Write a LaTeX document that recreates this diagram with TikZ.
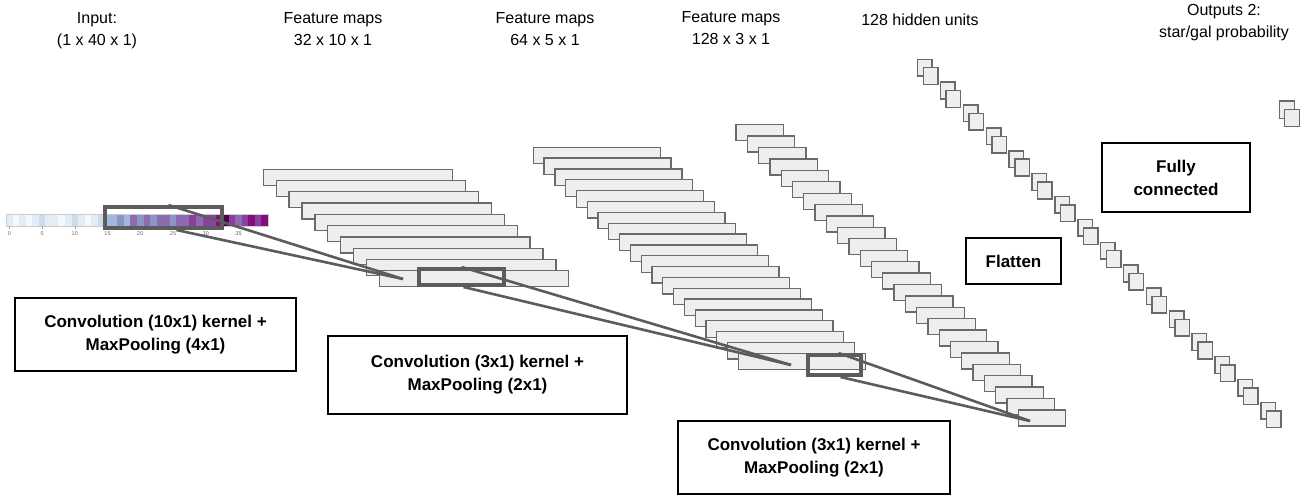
\documentclass[tikz,border=0pt]{standalone}
\usepackage{fontspec}
\setmainfont{Liberation Sans}
\usetikzlibrary{%
  positioning,
  calc
}
\definecolor{layerfill}{HTML}{EEEEEE}
\definecolor{layerline}{HTML}{6A6A6A}
\definecolor{kernelline}{HTML}{5C5C5C}
\definecolor{bp0}{HTML}{F4F8FB}
\definecolor{bp1}{HTML}{E3EDF6}
\definecolor{bp2}{HTML}{CCDCEC}
\definecolor{bp3}{HTML}{9FB8DB}
\definecolor{bp4}{HTML}{8C96C6}
\definecolor{bp5}{HTML}{8C6BB1}
\definecolor{bp6}{HTML}{88419D}
\definecolor{bp7}{HTML}{810F7C}
\definecolor{bp8}{HTML}{4D004B}
\newcommand{\opfont}{\fontsize{17}{23}\selectfont\bfseries}
\newcommand{\headfont}{\fontsize{16}{22}\selectfont}
\tikzset{
  layer/.style = {draw = layerline, fill = layerfill, line width = 1.3pt},
  unit/.style = {layer, line width = 1.5pt},
  kernel/.style = {draw = kernelline, line width = 4pt, inner sep = 0},
  proj/.style = {draw = kernelline, line width = 2.6pt},
  ticklabel/.style = {font = \fontsize{5.5}{5.5}\selectfont, text = gray!80!black, inner sep = 0}
}

\begin{document}
\begin{tikzpicture}[
      x = 1pt, y = -1pt,
      opbox/.style = {draw, line width = 1.2pt, align = center, font = \opfont, inner sep = 0},
      heading/.style = {align = center, font = \headfont, inner sep = 0}
      ]
      \useasboundingbox (0,0) rectangle (1305,498);
      \foreach \c [count = \k from 0] in {bp1,bp0,bp1,bp0,bp1,bp2,bp1,bp1,bp0,bp1,
          bp2,bp1,bp0,bp1,bp2,bp3,bp3,bp4,bp3,bp5,bp4,bp5,bp4,bp5,bp5,bp4,bp5,bp5,
          bp6,bp5,bp6,bp6,bp7,bp8,bp6,bp5,bp6,bp7,bp6,bp7}
        \fill[\c] ({6+6.55*\k},214) rectangle +(6.55,12);
      \draw[gray!40, line width = 0.6pt] (6,214) rectangle (268,226);
      \foreach \k in {0,5,...,35} {
        \draw[gray!70, line width = 0.5pt] ({9.3+6.55*\k},226) -- +(0,2.5);
        \node[ticklabel] at ({9.3+6.55*\k},233.5) {\k};
      }
      \node[kernel, minimum width = 117pt, minimum height = 21pt] (k1) at (163.5,217.5) {};
      \foreach \i in {0,...,9}
        \draw[layer] ({263.3+12.89*\i},{169.3+11.27*\i}) rectangle +(189.5,16);
      \coordinate (t1) at (403,279);
      \draw[proj] ([xshift = 5pt]k1.north) -- (t1);
      \draw[proj] ([xshift = 13pt]k1.south) -- (t1);
      \node[kernel, minimum width = 85pt, minimum height = 16pt] (k2) at (461.5,277) {};
      \foreach \i in {0,...,19}
        \draw[layer] ({533.3+10.79*\i},{147.3+10.84*\i}) rectangle +(127,16.5);
      \coordinate (t2) at (791,365);
      \draw[proj] (k2.north) -- (t2);
      \draw[proj] ([xshift = 2pt]k2.south) -- (t2);
      \node[kernel, minimum width = 53pt, minimum height = 20pt] (k3) at (834.5,365) {};
      \foreach \i in {0,...,25}
        \draw[layer] ({736+11.29*\i},{124.7+11.41*\i}) rectangle +(47.5,16);
      \coordinate (t3) at (1030,421);
      \draw[proj] ([xshift = 4pt]k3.north) -- (t3);
      \draw[proj] ([xshift = 6pt]k3.south) -- (t3);
      \foreach \i in {0,...,15} {
        \draw[unit] ({917.7+22.87*\i},{59.3+22.87*\i}) rectangle +(14.5,16.7);
        \draw[unit] ({923.3+22.87*\i},{67.7+22.87*\i}) rectangle +(14.5,16.7);
      }
      \draw[unit] (1279.3,101) rectangle +(15,17.3);
      \draw[unit] (1284.3,109.3) rectangle +(15,17.3);
      \node[opbox, minimum width = 281pt, minimum height = 73pt] (conv1) at (155.5,334.5)
        {Convolution (10x1) kernel +\\MaxPooling (4x1)};
      \node[opbox, minimum width = 299pt, minimum height = 78pt] (conv2) at (477.5,375)
        {Convolution (3x1) kernel +\\MaxPooling (2x1)};
      \node[opbox, minimum width = 272pt, minimum height = 73pt] (conv3) at (814,457.5)
        {Convolution (3x1) kernel +\\MaxPooling (2x1)};
      \node[opbox, minimum width = 95pt, minimum height = 46pt] (flatten) at (1013.5,261) {Flatten};
      \node[opbox, minimum width = 148pt, minimum height = 69pt] (dense) at (1176,177.5)
        {Fully\\connected};
      \node[heading] (inlbl) at (97,31) {Input:\\(1 x 40 x 1)};
      \node[heading] (fm1) at (333,29.5) {Feature maps\\32 x 10 x 1};
      \node[heading] (fm2) at (545,29.5) {Feature maps\\64 x 5 x 1};
      \node[heading] (fm3) at (731,28.5) {Feature maps\\128 x 3 x 1};
      \node[heading] (hidlbl) at (920,20) {128 hidden units};
      \node[heading] (outlbl) at (1224,23) {Outputs 2:\\star/gal probability};
    \end{tikzpicture}
\end{document}
